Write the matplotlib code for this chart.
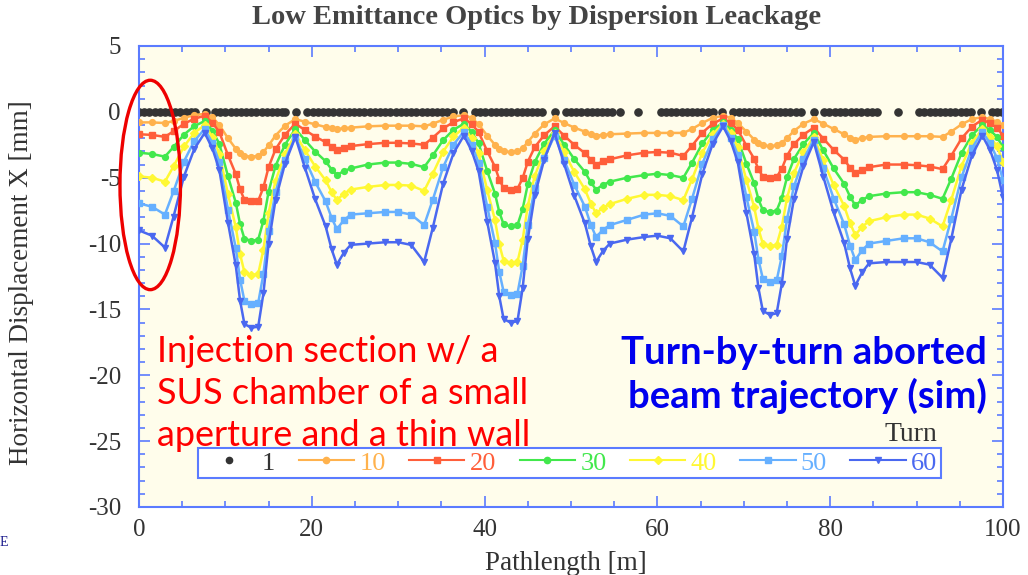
import numpy as np
import matplotlib.pyplot as plt
from matplotlib.patches import Ellipse
from matplotlib.ticker import MultipleLocator

plt.rcParams['font.family'] = ['Liberation Serif', 'DejaVu Serif']
plt.rcParams['axes.unicode_minus'] = False

# --- data ---
# pathlength of the markers of turns 10..60 [m]
s_pos = [0.0, 1.5, 3.0, 4.0, 5.2, 6.4, 7.6, 8.5, 9.3, 10.3, 11.2, 11.7, 12.2, 13.0, 13.8,
         14.4, 15.0, 15.8, 16.9, 18.1, 19.2, 20.4, 21.6, 22.3, 22.9, 23.7, 24.5, 26.5, 28.5,
         30.0, 31.5, 33.0, 34.0, 35.2, 36.4, 37.6, 38.5, 39.3, 40.3, 41.2, 41.7, 42.2, 43.0, 43.8,
         44.4, 45.0, 45.8, 46.9, 48.1, 49.2, 50.4, 51.6, 52.3, 52.9, 53.7, 54.5, 56.5, 58.5,
         60.0, 61.5, 63.0, 64.0, 65.2, 66.4, 67.6, 68.5, 69.3, 70.3, 71.2, 71.7, 72.2, 73.0, 73.8,
         74.4, 75.0, 75.8, 76.9, 78.1, 79.2, 80.4, 81.6, 82.3, 82.9, 83.7, 84.5, 86.5, 88.5,
         90.0, 91.5, 93.0, 94.0, 95.2, 96.4, 97.6, 98.5, 99.3, 100.0]

# turn 1 sits on the axis, only marker positions
s_turn1 = [0.0, 0.6, 1.2, 1.8, 2.4, 3.0, 3.6, 4.2, 4.8, 5.4, 6.0, 6.5, 7.8,
           8.8, 9.4, 10.0, 10.6, 11.2, 11.8, 12.4, 13.0, 13.6, 14.2, 14.8, 15.4, 16.0, 16.5, 16.9,
           18.2,
           19.5, 20.1, 20.7, 21.3, 21.9, 22.5, 23.1, 23.7, 24.3, 24.9, 25.5, 26.1, 26.7, 27.3,
           27.9, 28.5, 29.1, 29.7, 30.3, 30.9, 31.5, 32.1, 32.7, 33.3, 33.9, 34.5, 35.1, 35.7, 36.3,
           37.5,
           38.9, 39.5, 40.1, 40.7, 41.3, 41.9, 42.5, 43.1, 43.7, 44.3, 44.9, 45.5, 46.1, 46.7,
           48.2,
           49.4, 50.0, 50.6, 51.2, 51.8, 52.4, 53.0, 53.6, 54.2, 54.8, 55.7, 57.8,
           60.4, 61.0, 61.6, 62.2, 62.8, 63.4, 64.0, 64.6, 65.2, 65.8, 66.4,
           67.5,
           68.8, 69.4, 70.0, 70.6, 71.2, 71.8, 72.4, 73.0, 73.6, 74.2, 74.8, 75.4, 76.0, 76.6,
           78.1,
           79.3, 79.9, 80.5, 81.1, 81.7, 82.4, 83.0, 83.6, 84.2, 84.8, 85.4, 87.9,
           90.3, 90.9, 91.5, 92.1, 92.7, 93.3, 93.9, 94.5, 95.1, 95.7, 96.3,
           97.5, 98.7, 99.3, 99.9]
x_turn1 = np.zeros(len(s_turn1))

x_turn10 = [-0.8, -0.8, -0.85, -0.7, -0.45, -0.25, -0.15, -0.4, -1.0, -2.0, -2.8, -3.15, -3.35, -3.4, -3.35,
            -3.05, -2.55, -1.8, -1.05, -0.55, -0.75, -0.95, -1.15, -1.25, -1.3, -1.25, -1.2, -1.1, -1.05,
            -1.05, -1.05, -1.1, -0.9, -0.6, -0.35, -0.25, -0.45, -0.95, -1.8, -2.5, -2.8, -3.0, -3.05, -3.0,
            -2.75, -2.3, -1.65, -0.95, -0.5, -0.85, -1.2, -1.5, -1.7, -1.8, -1.75, -1.7, -1.65, -1.6,
            -1.6, -1.6, -1.6, -1.3, -0.85, -0.45, -0.3, -0.45, -0.85, -1.5, -2.1, -2.4, -2.55, -2.6, -2.55,
            -2.35, -2.0, -1.45, -0.9, -0.55, -0.9, -1.3, -1.7, -1.95, -2.1, -2.0, -1.9, -1.85, -1.85,
            -1.85, -1.85, -1.9, -1.5, -0.95, -0.55, -0.4, -0.55, -0.75, -1.0]

x_turn20 = [-1.7, -1.75, -1.9, -1.47, -0.91, -0.52, -0.3, -0.82, -1.54, -3.29, -4.72, -5.89, -6.67, -6.8, -6.75,
            -5.74, -4.2, -2.85, -1.73, -0.9, -1.38, -1.88, -2.3, -2.66, -2.9, -2.72, -2.6, -2.45, -2.35,
            -2.35, -2.4, -2.5, -1.96, -1.26, -0.78, -0.5, -0.93, -1.53, -2.98, -4.17, -5.14, -5.79, -5.9, -5.85,
            -5.04, -3.79, -2.68, -1.77, -1.1, -1.8, -2.52, -3.13, -3.65, -4.0, -3.76, -3.6, -3.3, -3.1,
            -3.05, -3.1, -3.35, -2.58, -1.58, -0.9, -0.5, -0.86, -1.36, -2.57, -3.56, -4.37, -4.91, -5.0, -4.95,
            -4.32, -3.33, -2.45, -1.73, -1.2, -2.03, -2.89, -3.62, -4.24, -4.65, -4.38, -4.2, -4.0, -4.0,
            -4.05, -4.15, -4.35, -3.34, -2.02, -1.12, -0.6, -0.85, -1.2, -1.8]

x_turn30 = [-3.1, -3.2, -3.4, -2.67, -1.73, -1.08, -0.7, -1.43, -2.43, -4.89, -6.89, -8.53, -9.62, -9.8, -9.7,
            -8.27, -6.06, -4.11, -2.49, -1.3, -2.14, -3.02, -3.75, -4.38, -4.8, -4.5, -4.3, -4.0, -3.85,
            -3.85, -3.95, -4.2, -3.31, -2.15, -1.36, -0.9, -1.52, -2.38, -4.49, -6.2, -7.61, -8.54, -8.7, -8.6,
            -7.39, -5.49, -3.81, -2.42, -1.4, -2.48, -3.61, -4.55, -5.36, -5.9, -5.54, -5.3, -5.0, -4.8,
            -4.7, -4.8, -5.0, -3.87, -2.4, -1.39, -0.8, -1.34, -2.09, -3.93, -5.42, -6.65, -7.46, -7.6, -7.5,
            -6.52, -4.96, -3.58, -2.44, -1.6, -2.92, -4.3, -5.45, -6.44, -7.1, -6.68, -6.4, -6.2, -6.1,
            -6.1, -6.3, -6.6, -5.09, -3.13, -1.78, -1.0, -1.4, -1.9, -2.7]

x_turn40 = [-4.9, -5.0, -5.3, -4.14, -2.63, -1.6, -1.0, -1.91, -3.17, -6.24, -8.75, -10.8, -12.17, -12.4, -12.3,
            -10.47, -7.69, -5.23, -3.2, -1.7, -2.9, -4.15, -5.2, -6.1, -6.7, -6.22, -5.9, -5.7, -5.55,
            -5.55, -5.6, -6.0, -4.7, -3.02, -1.87, -1.2, -2.02, -3.16, -5.94, -8.2, -10.06, -11.29, -11.5, -11.4,
            -9.72, -7.14, -4.87, -2.99, -1.6, -3.06, -4.59, -5.87, -6.97, -7.7, -7.28, -7.0, -6.6, -6.3,
            -6.3, -6.4, -6.7, -5.13, -3.1, -1.71, -0.9, -1.64, -2.67, -5.18, -7.22, -8.9, -10.01, -10.2, -10.1,
            -8.71, -6.55, -4.64, -3.06, -1.9, -3.69, -5.55, -7.12, -8.46, -9.35, -8.72, -8.3, -8.0, -7.8,
            -7.8, -8.1, -8.7, -6.7, -4.11, -2.34, -1.3, -1.9, -2.6, -3.8]

x_turn50 = [-6.95, -7.2, -7.8, -6.04, -3.77, -2.21, -1.3, -2.36, -3.83, -7.42, -10.34, -12.74, -14.33, -14.6, -14.5,
            -12.31, -9.01, -6.09, -3.68, -1.9, -3.58, -5.33, -6.8, -8.06, -8.9, -8.24, -7.8, -7.7, -7.6,
            -7.6, -7.8, -8.6, -6.68, -4.2, -2.49, -1.5, -2.49, -3.86, -7.2, -9.93, -12.16, -13.65, -13.9, -13.8,
            -11.72, -8.58, -5.79, -3.49, -1.8, -3.65, -5.57, -7.19, -8.58, -9.5, -8.96, -8.6, -8.2, -7.8,
            -7.7, -7.9, -8.7, -6.62, -3.93, -2.08, -1.0, -1.95, -3.26, -6.47, -9.09, -11.23, -12.66, -12.9, -12.8,
            -10.96, -8.15, -5.66, -3.61, -2.1, -4.3, -6.58, -8.51, -10.15, -11.25, -10.5, -10.0, -9.8, -9.6,
            -9.6, -9.9, -10.6, -8.14, -4.96, -2.77, -1.5, -2.4, -3.5, -5.2]

x_turn60 = [-9.0, -9.4, -10.3, -7.95, -4.91, -2.82, -1.6, -2.78, -4.41, -8.41, -11.66, -14.33, -16.1, -16.4, -16.3,
            -13.79, -10.02, -6.69, -3.93, -1.9, -4.23, -6.65, -8.69, -10.44, -11.6, -10.7, -10.1, -10.0, -9.9,
            -9.9, -10.1, -11.4, -8.81, -5.45, -3.14, -1.8, -2.94, -4.5, -8.33, -11.46, -14.01, -15.72, -16.0, -15.9,
            -13.41, -9.66, -6.35, -3.62, -1.6, -3.95, -6.4, -8.46, -10.22, -11.4, -10.56, -10.0, -9.7, -9.5,
            -9.4, -9.6, -10.6, -8.03, -4.71, -2.43, -1.1, -2.24, -3.82, -7.68, -10.82, -13.4, -15.11, -15.4, -15.3,
            -13.04, -9.64, -6.62, -4.13, -2.3, -4.92, -7.64, -9.93, -11.89, -13.2, -12.18, -11.5, -11.4, -11.4,
            -11.4, -11.6, -12.6, -9.68, -5.9, -3.31, -1.8, -2.9, -4.4, -6.5]

turns = ['10', '20', '30', '40', '50', '60']
series = [x_turn10, x_turn20, x_turn30, x_turn40, x_turn50, x_turn60]
colors = ['#FFB24D', '#FF5E3A', '#42E84C', '#FFF833', '#66B0FF', '#4A68F0']
markers = ['o', 's', 'o', 'D', 's', 'v']

blue = '#5B7BFF'

fig = plt.figure(figsize=(10.28, 5.75), dpi=100)
ax = fig.add_axes([0.1352, 0.1183, 0.8405, 0.8017])
ax.set_facecolor('#FFFDEB')

ax.plot(s_turn1, x_turn1, ls='none', marker='o', ms=5.2, color='#333333', label='1', zorder=2)
for lab, vals, col, mk in zip(turns, series, colors, markers):
    ax.plot(s_pos, vals, color=col, marker=mk, ms=4.2, lw=1.8, label=lab, zorder=3)

ax.set_xlim(0, 100)
ax.set_ylim(-30, 5)
ax.xaxis.set_major_locator(MultipleLocator(20))
ax.xaxis.set_minor_locator(MultipleLocator(5))
ax.yaxis.set_major_locator(MultipleLocator(5))
ax.yaxis.set_minor_locator(MultipleLocator(1))
ax.tick_params(which='both', direction='in', top=True, right=True, color=blue, width=1.2)
ax.tick_params(which='major', length=8, labelsize=18, labelcolor='#333333')
ax.tick_params(which='minor', length=4.5)
ax.tick_params(axis='y', pad=13)
ax.tick_params(axis='x', pad=9)
for sp in ax.spines.values():
    sp.set_color(blue)
    sp.set_linewidth(1.5)

fig.text(537 / 1028, 1 - 18 / 575, 'Low Emittance Optics by Dispersion Leackage',
         ha='center', va='center', fontsize=20.5, fontweight='bold', color='#444444')
fig.text(22 / 1028, 1 - 283 / 575, 'Horizontal Displacement X [mm]', rotation=90,
         ha='center', va='center', fontsize=19.5, color='#333333')
fig.text(566 / 1028, 1 - 563 / 575, 'Pathlength [m]', ha='center', va='center',
         fontsize=19.5, color='#333333')
fig.text(0.0, 1 - 543 / 575, 'E', ha='left', va='center', fontsize=10, color='#1A1A8C')

leg = ax.legend(loc='lower left', bbox_to_anchor=(0.0532, 0.0347, 0.8898, 0.0781),
                mode='expand', ncol=7, frameon=True, fancybox=False, edgecolor=blue,
                facecolor='white', framealpha=1, fontsize=19, handlelength=2.1,
                handletextpad=0.2, columnspacing=0.8, borderpad=0.12, labelcolor='linecolor')
leg.get_frame().set_linewidth(1.5)
for h in leg.legend_handles:
    h.set_markersize(4.5)
    h.set_linewidth(1.5)

ax.text(0.894, 0.158, 'Turn', transform=ax.transAxes, ha='center', va='center',
        fontsize=20, color='#333333')

ax.add_patch(Ellipse((1.3, -5.55), 7.0, 15.9, fill=False, ec='#EE0000', lw=2.4,
                     clip_on=False, zorder=5))

# multi-line text: 'baseline' pins the last line
ax.text(0.0208, 0.132, 'Injection section w/ a\nSUS chamber of a small\naperture and a thin wall',
        transform=ax.transAxes, ha='left', va='baseline', color='#FF0000', fontsize=26,
        family=['Lato', 'DejaVu Sans'], linespacing=1.34)
ax.text(0.981, 0.215, 'Turn-by-turn aborted\nbeam trajectory (sim)', transform=ax.transAxes,
        ha='right', va='baseline', color='#0000EE', fontsize=27.5, fontweight='bold',
        family=['Lato', 'DejaVu Sans'], linespacing=1.24)

fig.savefig('out.png', dpi=100)
